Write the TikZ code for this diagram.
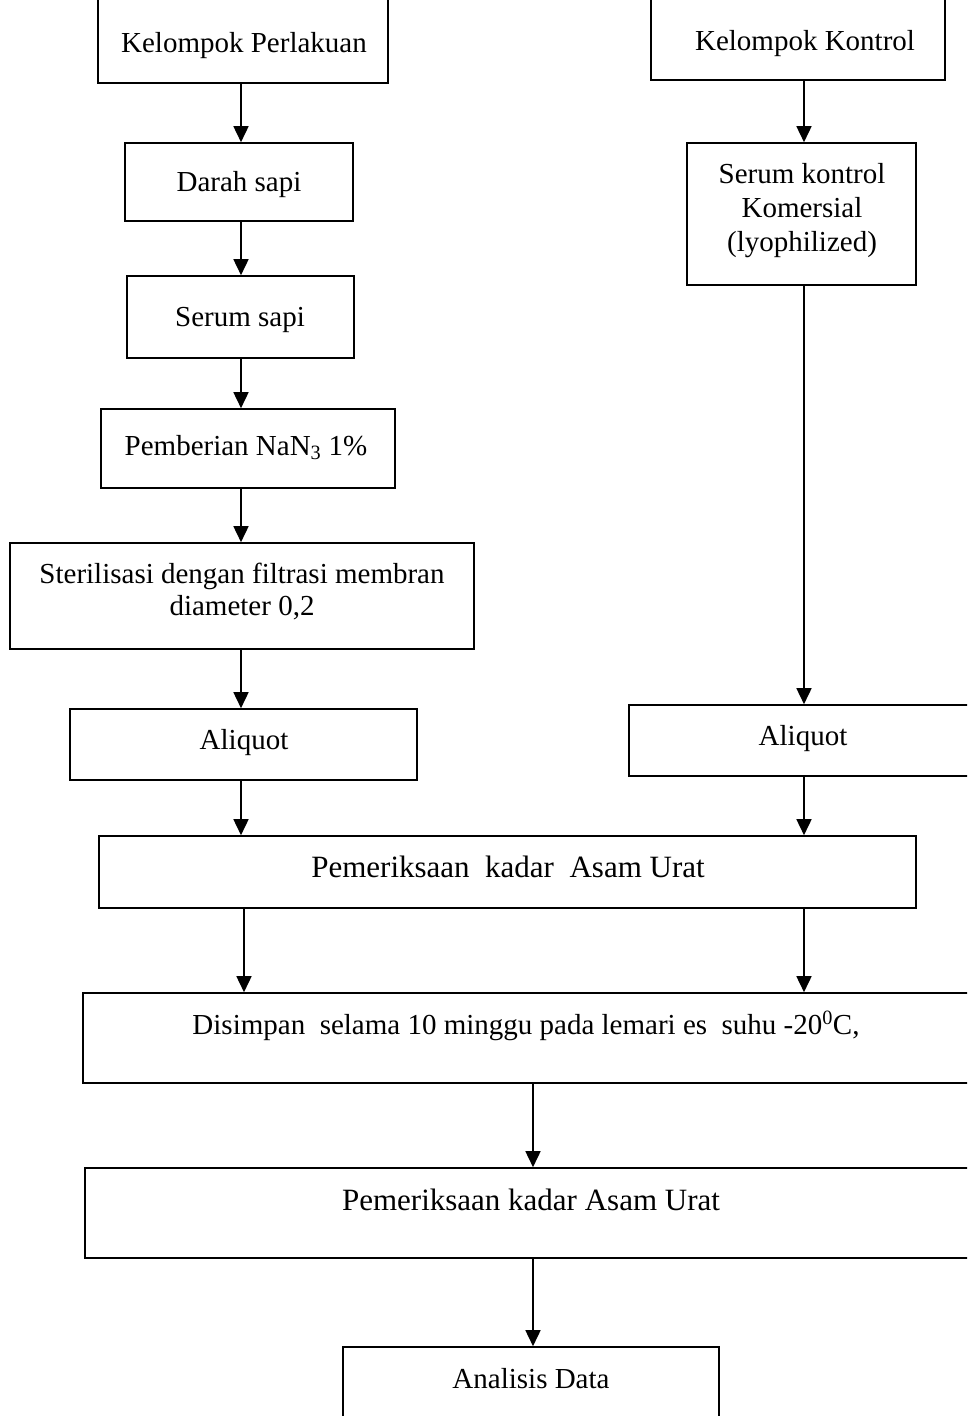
\documentclass[tikz,border=0pt]{standalone}
\usepackage{fontspec}
\setmainfont{Liberation Serif}
\usetikzlibrary{fit,arrows.meta}
\begin{document}
\begin{tikzpicture}[x=1pt,y=-1pt,
  box/.style={draw,line width=1.6pt,inner sep=0pt},
  txt/.style={anchor=base,inner sep=0pt,font=\fontsize{29}{33}\selectfont},
  bigtxt/.style={txt,font=\fontsize{31}{35}\selectfont},
  arr/.style={line width=1.6pt,-{Triangle[width=15pt,length=16pt]}}]
\useasboundingbox (0,0) rectangle (967,1416);
\clip (0,0) rectangle (967,1416);
% boxes
\node[box,fit={(98,-2)(388,83)}] (kp) {};
\node[box,fit={(651,-2)(945,80)}] (kk) {};
\node[box,fit={(125,143)(353,221)}] (darah) {};
\node[box,fit={(127,276)(354,358)}] (serum) {};
\node[box,fit={(101,409)(395,488)}] (nan) {};
\node[box,fit={(10,543)(474,649)}] (steril) {};
\node[box,fit={(70,709)(417,780)}] (aliL) {};
\node[box,fit={(687,143)(916,285)}] (sk) {};
\node[box,fit={(629,705)(990,776)}] (aliR) {};
\node[box,fit={(99,836)(916,908)}] (per1) {};
\node[box,fit={(83,993)(990,1083)}] (simpan) {};
\node[box,fit={(85,1168)(990,1258)}] (per2) {};
\node[box,fit={(343,1347)(719,1440)}] (anal) {};
% texts
\node[txt] (kpt) at (244,52) {Kelompok Perlakuan};
\node[txt] (kkt) at (805,50) {Kelompok Kontrol};
\node[txt] (darahT) at (239,191) {Darah sapi};
\node[txt] (serumT) at (240,326) {Serum sapi};
\node[txt] (nanT) at (246,455) {Pemberian NaN\textsubscript{3} 1\%};
\node[txt] (sterilT1) at (242,583) {Sterilisasi dengan filtrasi membran};
\node[txt] (sterilT2) at (242,615) {diameter 0,2};
\node[txt] (aliLT) at (244,749) {Aliquot};
\node[txt] (skT1) at (802,183) {Serum kontrol};
\node[txt] (skT2) at (802,217) {Komersial};
\node[txt] (skT3) at (802,251) {(lyophilized)};
\node[txt] (aliRT) at (803,745) {Aliquot};
\node[bigtxt] (per1T) at (508,877) {Pemeriksaan\ \ kadar\ \ Asam Urat};
\node[txt] (simpanT) at (526,1034) {Disimpan\ \ selama 10 minggu pada lemari es\ \ suhu -20\textsuperscript{0}C,};
\node[bigtxt] (per2T) at (531,1210) {Pemeriksaan kadar Asam Urat};
\node[txt] (analT) at (531,1388) {Analisis Data};
% arrows
\draw[arr] (241,0 |- kp.south) -- (241,0 |- darah.north);
\draw[arr] (241,0 |- darah.south) -- (241,0 |- serum.north);
\draw[arr] (241,0 |- serum.south) -- (241,0 |- nan.north);
\draw[arr] (241,0 |- nan.south) -- (241,0 |- steril.north);
\draw[arr] (241,0 |- steril.south) -- (241,0 |- aliL.north);
\draw[arr] (241,0 |- aliL.south) -- (241,0 |- per1.north);
\draw[arr] (804,0 |- kk.south) -- (804,0 |- sk.north);
\draw[arr] (804,0 |- sk.south) -- (804,0 |- aliR.north);
\draw[arr] (804,0 |- aliR.south) -- (804,0 |- per1.north);
\draw[arr] (244,0 |- per1.south) -- (244,0 |- simpan.north);
\draw[arr] (804,0 |- per1.south) -- (804,0 |- simpan.north);
\draw[arr] (533,0 |- simpan.south) -- (533,0 |- per2.north);
\draw[arr] (533,0 |- per2.south) -- (533,0 |- anal.north);
\end{tikzpicture}
\end{document}
